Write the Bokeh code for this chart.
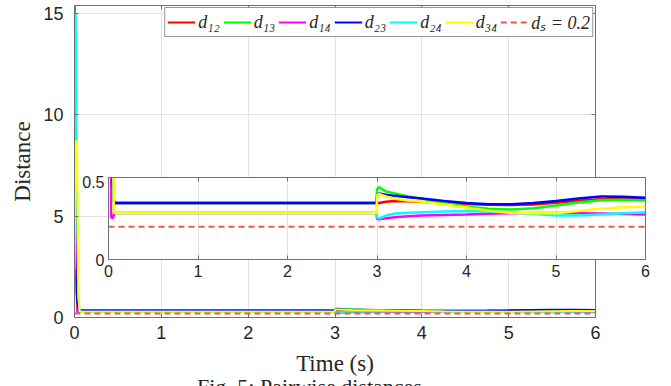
from bokeh.plotting import figure
from bokeh.models import Range1d, FixedTicker, LinearAxis, Legend, LegendItem, Div
from bokeh.layouts import column
from bokeh.embed import file_html
from bokeh.resources import INLINE

# ---------------- data ----------------
time = [0.0, 0.015, 0.03, 0.045, 0.06, 0.07, 1.0, 2.0, 2.995,
        3.0, 3.02, 3.1, 3.2, 3.35, 3.5, 3.75, 4.0, 4.25, 4.5, 4.75,
        5.0, 5.25, 5.5, 5.75, 6.0]
d12 = [16.5, 9.0, 1.0, 0.40, 0.35, 0.345, 0.345, 0.345, 0.345,
       0.339, 0.345, 0.352, 0.356, 0.355, 0.351, 0.345, 0.339, 0.334, 0.332, 0.336,
       0.346, 0.358, 0.367, 0.369, 0.366]
d13 = [8.5, 5.0, 1.0, 0.40, 0.35, 0.345, 0.345, 0.345, 0.345,
       0.425, 0.441, 0.415, 0.402, 0.385, 0.37, 0.345, 0.323, 0.31, 0.305, 0.312,
       0.329, 0.348, 0.362, 0.365, 0.36]
d14 = [9.5, 4.0, 0.26, 0.25, 0.27, 0.284, 0.284, 0.284, 0.284,
       0.25, 0.245, 0.252, 0.258, 0.264, 0.268, 0.272, 0.275, 0.279, 0.282, 0.284,
       0.283, 0.282, 0.281, 0.278, 0.274]
d23 = [3.9, 2.0, 0.8, 0.5, 0.36, 0.345, 0.345, 0.345, 0.345,
       0.39, 0.402, 0.395, 0.388, 0.38, 0.372, 0.357, 0.344, 0.337, 0.337, 0.344,
       0.356, 0.372, 0.384, 0.383, 0.376]
d24 = [1.4, 15.0, 6.0, 1.0, 0.30, 0.284, 0.284, 0.284, 0.284,
       0.26, 0.25, 0.268, 0.28, 0.285, 0.288, 0.292, 0.295, 0.292, 0.287, 0.278,
       0.268, 0.268, 0.275, 0.282, 0.288]
d34 = [2.4, 8.7, 8.7, 1.0, 0.29, 0.284, 0.284, 0.284, 0.284,
       0.39, 0.40, 0.385, 0.371, 0.36, 0.352, 0.335, 0.317, 0.298, 0.285, 0.282,
       0.282, 0.295, 0.309, 0.318, 0.323]
ds_time = [0.0, 6.0]
ds_value = [0.2, 0.2]

series_names = ["d₁₂", "d₁₃", "d₁₄", "d₂₃", "d₂₄", "d₃₄"]
series_values = [d12, d13, d14, d23, d24, d34]
series_colors = ["#ff0000", "#00ff00", "#ff00ff", "#0000ff", "#00ffff", "#ffff00"]
ds_label = "dₛ = 0.2"
caption_text = "Fig. 5: Pairwise distances"

main_xticks = [0, 1, 2, 3, 4, 5, 6]
main_yticks = [0, 5, 10, 15]
inset_xticks = [0, 1, 2, 3, 4, 5, 6]
inset_yticks = [0, 0.5]

TICK_FONT = "Liberation Sans"
SERIF = "Liberation Serif"
AXC = "#707070"
TXT = "#262626"
GRID = "#e2e2e2"


def style_axis(ax, size, standoff, labels=True):
    ax.axis_line_color = AXC
    ax.major_tick_line_color = AXC
    ax.minor_tick_line_color = None
    ax.major_tick_in = 4
    ax.major_tick_out = 0
    ax.major_label_text_font = TICK_FONT
    ax.major_label_text_color = TXT
    ax.major_label_standoff = standoff
    if labels:
        ax.major_label_text_font_size = size
    else:
        ax.major_label_text_font_size = "1px"
        ax.major_label_text_alpha = 0
        ax.major_label_standoff = 0


# ---------------- main figure ----------------
p = figure(width=607, height=386, x_range=Range1d(0, 6), y_range=Range1d(0, 15.4),
           output_backend="svg", toolbar_location=None,
           min_border_left=74, min_border_right=12, min_border_top=5, min_border_bottom=69)
p.background_fill_color = "white"
p.border_fill_color = "white"
p.outline_line_color = AXC

renderers = []
for vals, col in zip(series_values, series_colors):
    r = p.line(time, vals, line_color=col, line_width=2)
    renderers.append(r)
r_ds = p.line(ds_time, ds_value, line_color="#ff5050", line_width=2, line_dash="6 4")

p.xaxis.ticker = FixedTicker(ticks=main_xticks)
p.yaxis.ticker = FixedTicker(ticks=main_yticks)
style_axis(p.xaxis[0], "18px", 8)
style_axis(p.yaxis[0], "18px", 11)
p.xaxis.axis_label = "Time (s)"
p.yaxis.axis_label = "Distance"
for ax in (p.xaxis[0], p.yaxis[0]):
    ax.axis_label_text_font = SERIF
    ax.axis_label_text_font_style = "normal"
    ax.axis_label_text_font_size = "23px"
    ax.axis_label_text_color = TXT
p.xaxis.axis_label_standoff = 9
p.yaxis.axis_label_standoff = 5

top_ax = LinearAxis(ticker=FixedTicker(ticks=main_xticks))
right_ax = LinearAxis(ticker=FixedTicker(ticks=main_yticks))
style_axis(top_ax, "1px", 0, labels=False)
style_axis(right_ax, "1px", 0, labels=False)
p.add_layout(top_ax, "above")
p.add_layout(right_ax, "right")

p.xgrid.ticker = FixedTicker(ticks=main_xticks)
p.ygrid.ticker = FixedTicker(ticks=main_yticks)
p.grid.grid_line_color = GRID

items = [LegendItem(label=n, renderers=[r]) for n, r in zip(series_names, renderers)]
items.append(LegendItem(label=ds_label, renderers=[r_ds]))
legend = Legend(items=items, orientation="horizontal", location="top_right")
legend.label_text_font = SERIF
legend.label_text_font_style = "italic"
legend.label_text_font_size = "18px"
legend.label_text_color = TXT
legend.glyph_width = 28
legend.glyph_height = 14
legend.label_standoff = 3
legend.spacing = 3
legend.padding = 2
legend.margin = 2
legend.border_line_color = "#303030"
legend.border_line_width = 1
legend.background_fill_alpha = 1
p.add_layout(legend)

# ---------------- inset figure ----------------
# the column aligns plot borders: inset borders equal the main borders (74 / 12)
ins = figure(width=623, height=108, x_range=Range1d(0, 6), y_range=Range1d(0, 0.5),
             output_backend="svg", toolbar_location=None,
             min_border_left=74, min_border_right=12, min_border_top=2, min_border_bottom=24)
ins.background_fill_color = "white"
ins.border_fill_alpha = 0
ins.outline_line_color = AXC
for vals, col in zip(series_values, series_colors):
    ins.line(time, vals, line_color=col, line_width=2.5)
ins.line(ds_time, ds_value, line_color="#ff5050", line_width=2, line_dash="6 4")
ins.xaxis.ticker = FixedTicker(ticks=inset_xticks)
ins.yaxis.ticker = FixedTicker(ticks=inset_yticks)
ins.yaxis.major_label_overrides = {0: "0", 0.5: "0.5"}
style_axis(ins.xaxis[0], "16px", 5)
style_axis(ins.yaxis[0], "16px", 4)
ins_top = LinearAxis(ticker=FixedTicker(ticks=inset_xticks))
style_axis(ins_top, "1px", 0, labels=False)
ins.add_layout(ins_top, "above")
ins.xgrid.ticker = FixedTicker(ticks=inset_xticks)
ins.ygrid.ticker = FixedTicker(ticks=inset_yticks)
ins.grid.grid_line_color = GRID
ins.margin = (-211, 0, 0, 34)

# figure caption, cut off by the lower edge of the picture as in the original
cap = Div(text=caption_text, width=420, height=12, margin=(91, 0, 0, 197),
          styles={"overflow": "hidden", "font-family": SERIF, "font-size": "22px",
                  "line-height": "26px", "color": TXT, "white-space": "nowrap"})

layout = column(p, ins, cap)
open("out.html", "w").write(file_html(layout, INLINE))
